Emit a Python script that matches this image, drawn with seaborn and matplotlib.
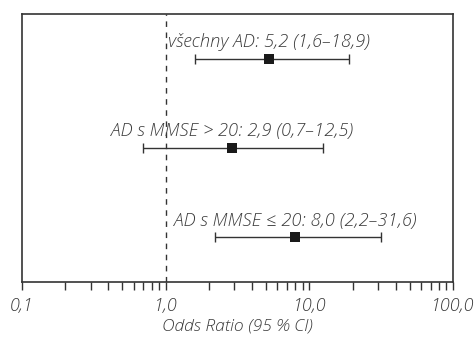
import matplotlib
matplotlib.use("Agg")
import matplotlib.pyplot as plt
import matplotlib.ticker as mticker
import numpy as np
import pandas as pd
import seaborn as sns

# Odds ratios with 95 % confidence intervals per group
groups = ["všechny AD", "AD s MMSE > 20", "AD s MMSE ≤ 20"]
odds = [5.2, 2.9, 8.0]
ci_low = [1.6, 0.7, 2.2]
ci_high = [18.9, 12.5, 31.6]

major_ticks = [0.1, 1.0, 10.0, 100.0]
tick_labels = ["0,1", "1,0", "10,0", "100,0"]

def cz(v):
    return f"{v:.1f}".replace(".", ",")

df = pd.DataFrame({"group": groups, "odds": odds, "lo": ci_low, "hi": ci_high})
df["row"] = np.arange(len(df))

sns.set_theme(style="white")
plt.rcParams["font.family"] = ["Open Sans", "DejaVu Sans"]

fig = plt.figure(figsize=(4.77, 3.38), dpi=100)
ax = fig.add_axes([22 / 477, 1 - 282 / 338, (453 - 22) / 477, (282 - 14) / 338])

line_col = "#333333"
txt_col = "#3a3a3a"

# confidence intervals
ax.errorbar(df["odds"], df["row"],
            xerr=[df["odds"] - df["lo"], df["hi"] - df["odds"]],
            fmt="none", ecolor=line_col, elinewidth=1.0, capsize=3.5, capthick=1.0, zorder=2)
# point estimates
sns.scatterplot(data=df, x="odds", y="row", marker="s", s=56, color="#1a1a1a",
                edgecolor="#1a1a1a", linewidth=0, ax=ax, zorder=3, legend=False)

# group label with estimate and interval, sitting just above each bar
for _, r in df.iterrows():
    ax.text(r["odds"], r["row"] - 0.13,
            f"{r['group']}: {cz(r['odds'])} ({cz(r['lo'])}–{cz(r['hi'])})",
            ha="center", va="baseline", fontsize=13.2, style="italic", fontweight="light",
            color=txt_col)

ax.axvline(1.0, color=line_col, lw=1.0, ls=(0, (4, 4)), zorder=1)

ax.set_xscale("log")
ax.set_xlim(0.1, 100)
ax.set_ylim(2.5, -0.5)
ax.set_yticks([])
ax.set_ylabel("")
ax.xaxis.set_major_locator(mticker.FixedLocator(major_ticks))
ax.xaxis.set_major_formatter(mticker.FixedFormatter(tick_labels))
ax.xaxis.set_minor_locator(mticker.LogLocator(base=10, subs=np.arange(2, 10)))
ax.xaxis.set_minor_formatter(mticker.NullFormatter())
ax.tick_params(axis="x", which="both", direction="out", length=6, width=1.0,
               color=line_col, bottom=True, pad=5)
for lab in ax.get_xticklabels():
    lab.set_fontstyle("italic")
    lab.set_fontweight("light")
    lab.set_fontsize(13)
    lab.set_color(txt_col)
ax.set_xlabel("Odds Ratio (95 % CI)", fontsize=12.6, style="italic", fontweight="light",
              color=txt_col, labelpad=2)

for s in ax.spines.values():
    s.set_color(line_col)
    s.set_linewidth(1.2)

fig.savefig("out.png", dpi=100)
